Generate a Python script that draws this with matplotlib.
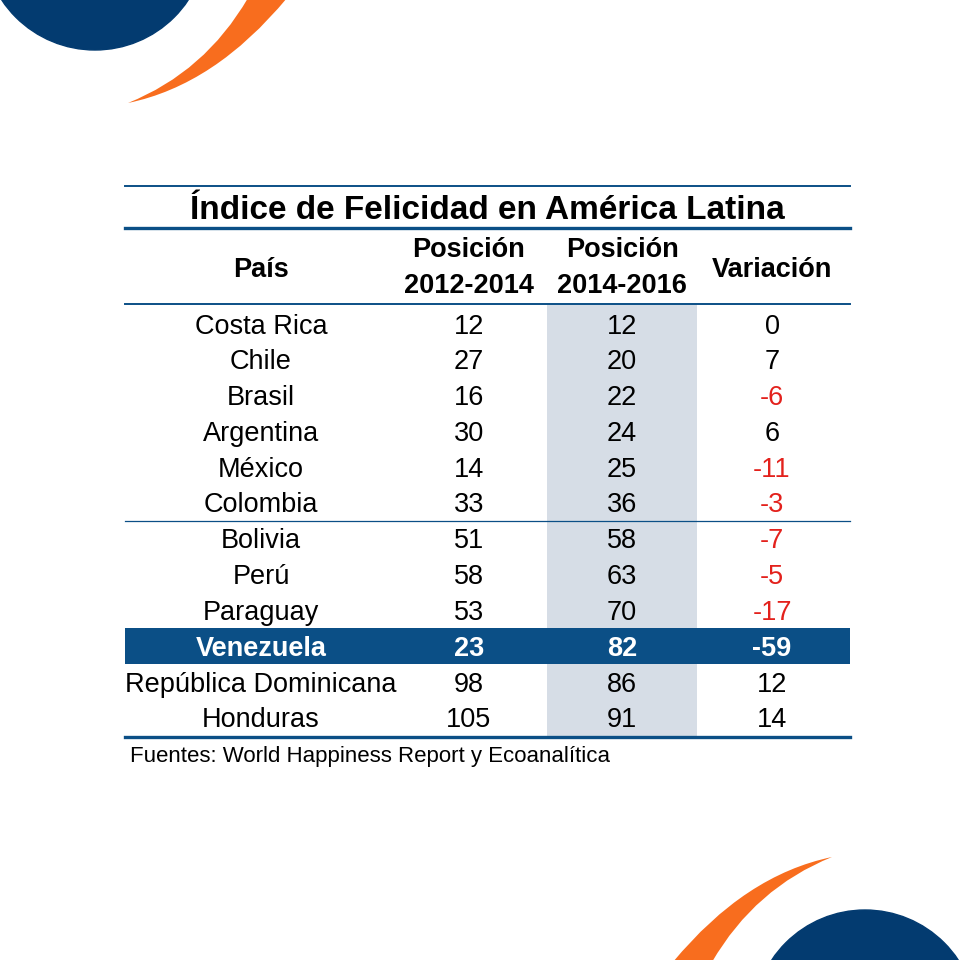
import matplotlib
matplotlib.use('Agg')
import matplotlib.pyplot as plt
from matplotlib.patches import Circle, Rectangle, PathPatch
from matplotlib.path import Path

# datos de la tabla
paises = ['Costa Rica', 'Chile', 'Brasil', 'Argentina', 'México', 'Colombia',
          'Bolivia', 'Perú', 'Paraguay', 'Venezuela', 'República Dominicana', 'Honduras']
pos_2012 = [12, 27, 16, 30, 14, 33, 51, 58, 53, 23, 98, 105]
pos_2016 = [12, 20, 22, 24, 25, 36, 58, 63, 70, 82, 86, 91]
variacion = [0, 7, -6, 6, -11, -3, -7, -5, -17, -59, 12, 14]

titulo = 'Índice de Felicidad en América Latina'
encabezados = [['País'], ['Posición', '2012-2014'], ['Posición', '2014-2016'], ['Variación']]
fuente = 'Fuentes: World Happiness Report y Ecoanalítica'

familia = ['Liberation Sans', 'DejaVu Sans']

azul = '#0b4f86'
navy = '#033b70'
naranja = '#f86d1e'
gris = '#d6dde6'
rojo = '#e3211c'

fig = plt.figure(figsize=(9.6, 9.6), dpi=100)
ax = fig.add_axes([0, 0, 1, 1])
ax.set_xlim(0, 960)
ax.set_ylim(960, 0)
ax.axis('off')

# decoracion esquinas
def adorno(rot):
    def t(x, y):
        return (960 - x, 960 - y) if rot else (x, y)
    cx, cy = t(95, -62)
    ax.add_patch(Circle((cx, cy), 112, color=navy, zorder=1))
    pts = [(128, 103), (215, 85), (287, -2), (248, -2), (205, 72), (128, 103)]
    codes = [Path.MOVETO, Path.CURVE3, Path.CURVE3, Path.LINETO, Path.CURVE3, Path.CURVE3]
    ax.add_patch(PathPatch(Path([t(*p) for p in pts], codes), color=naranja, lw=0, zorder=1))

adorno(False)
adorno(True)

x0, x1 = 125, 850
cols = [261, 469, 622, 772]
fila0 = 324
dh = 35.8
n = len(paises)

# columna gris
ax.add_patch(Rectangle((547, 305), 150, 737 - 305, color=gris, lw=0, zorder=2))

# lineas
ax.plot([x0, x1], [186, 186], color=azul, lw=1.4, zorder=3)
ax.plot([x0, x1], [228, 228], color=azul, lw=2.4, zorder=3)
ax.plot([x0, x1], [304, 304], color=azul, lw=1.4, zorder=3)
ax.plot([x0, x1], [520.5, 520.5], color=azul, lw=0.9, zorder=3)
ax.plot([x0, x1], [737, 737], color=azul, lw=2.4, zorder=3)

ax.text((x0 + x1) / 2, 219, titulo, ha='center', va='baseline', fontsize=24,
        fontweight='bold', family=familia, zorder=4)

for c, h in zip(cols, encabezados):
    if len(h) == 1:
        ys = [277]
    else:
        ys = [257, 293]
    for y, s in zip(ys, h):
        ax.text(c, y, s, ha='center', va='baseline', fontsize=19.5, fontweight='bold',
                family=familia, zorder=4)

for i in range(n):
    y = fila0 + i * dh + 9.5
    destacado = paises[i] == 'Venezuela'
    peso = 'bold' if destacado else 'normal'
    if destacado:
        ax.add_patch(Rectangle((x0, fila0 + i * dh - 18), x1 - x0, 35.5, color=azul,
                               lw=0, zorder=3))
    col_txt = 'white' if destacado else 'black'
    col_var = 'white' if destacado else (rojo if variacion[i] < 0 else 'black')
    vals = [paises[i], str(pos_2012[i]), str(pos_2016[i]), str(variacion[i])]
    colores = [col_txt, col_txt, col_txt, col_var]
    for c, v, cc in zip(cols, vals, colores):
        ax.text(c, y, v, ha='center', va='baseline', fontsize=19.5, fontweight=peso,
                color=cc, family=familia, zorder=4)

ax.text(130, 762, fuente, ha='left', va='baseline', fontsize=16,
        family=familia, zorder=4)

fig.savefig('out.png', dpi=100, facecolor='white')
